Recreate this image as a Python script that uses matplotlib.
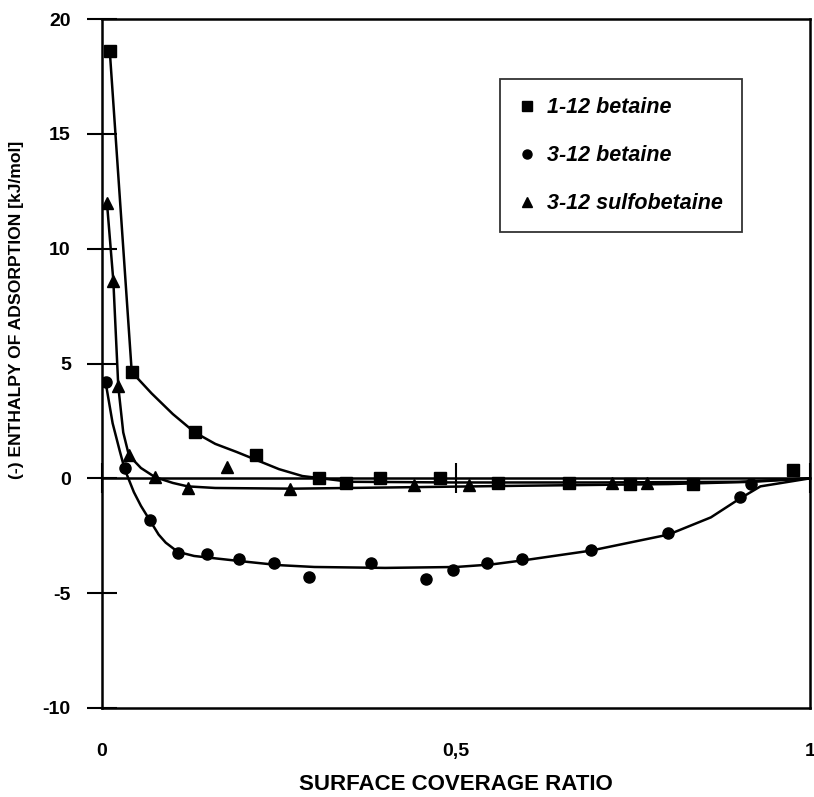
import matplotlib
matplotlib.use("Agg")
import matplotlib.pyplot as plt
from matplotlib.lines import Line2D

plt.rcParams['font.family'] = ['Liberation Sans', 'DejaVu Sans']
plt.rcParams['axes.unicode_minus'] = False

# ---- data ----
sq_x = [0.011, 0.042, 0.131, 0.218, 0.307, 0.345, 0.392, 0.478, 0.56, 0.66, 0.746, 0.835, 0.976]
sq_y = [18.6, 4.63, 2.0, 1.0, 0.0, -0.2, 0.0, 0.0, -0.2, -0.2, -0.25, -0.25, 0.35]

ci_x = [0.005, 0.032, 0.068, 0.107, 0.149, 0.194, 0.243, 0.292, 0.380, 0.458, 0.496,
        0.544, 0.593, 0.690, 0.799, 0.901, 0.917]
ci_y = [4.2, 0.43, -1.83, -3.27, -3.3, -3.5, -3.7, -4.3, -3.7, -4.4, -3.97,
        -3.7, -3.5, -3.1, -2.4, -0.83, -0.25]

tr_x = [0.007, 0.016, 0.023, 0.038, 0.075, 0.121, 0.176, 0.266, 0.44, 0.518, 0.72, 0.77]
tr_y = [12.0, 8.6, 4.0, 1.0, 0.05, -0.4, 0.48, -0.45, -0.3, -0.3, -0.2, -0.2]

# fitted curves (knots)
sq_fit_x = [0.011, 0.042, 0.07, 0.1, 0.131, 0.16, 0.19, 0.218, 0.25, 0.283, 0.31, 0.35,
            0.5, 0.7, 0.9, 0.95, 1.0]
sq_fit_y = [18.6, 4.63, 3.7, 2.8, 2.0, 1.5, 1.15, 0.8, 0.4, 0.1, 0.0, -0.15,
            -0.18, -0.18, -0.15, -0.08, 0.0]

ci_fit_x = [0.005, 0.015, 0.025, 0.032, 0.045, 0.055, 0.068, 0.08, 0.09, 0.107, 0.13, 0.15,
            0.2, 0.25, 0.3, 0.4, 0.5, 0.55, 0.6, 0.69, 0.8, 0.86, 0.9, 0.93, 1.0]
ci_fit_y = [4.2, 2.4, 1.2, 0.4, -0.6, -1.2, -1.85, -2.45, -2.8, -3.2, -3.38, -3.45,
            -3.62, -3.78, -3.86, -3.9, -3.86, -3.75, -3.55, -3.15, -2.45, -1.7, -0.9, -0.35, 0.0]

tr_fit_x = [0.007, 0.016, 0.023, 0.03, 0.038, 0.055, 0.075, 0.1, 0.121, 0.16, 0.27,
            0.4, 0.6, 0.8, 0.92, 1.0]
tr_fit_y = [12.0, 8.6, 4.0, 2.0, 1.0, 0.45, 0.05, -0.2, -0.35, -0.42, -0.45,
            -0.4, -0.32, -0.25, -0.15, 0.0]

labels = ['1-12 betaine', '3-12 betaine', '3-12 sulfobetaine']
x_ticks = [0, 0.5, 1]
x_ticklabels = ['0', '0,5', '1']
y_ticks = [-10, -5, 0, 5, 10, 15, 20]

# ---- figure ----
fig = plt.figure(figsize=(8.14, 7.97), dpi=100)
W, H = 814, 797
ax = fig.add_axes([102 / W, 1 - 708 / H, 708 / W, 689 / H])
ax.set_xlim(0, 0.997)
ax.set_ylim(-10, 20)

lw = 1.8
ax.plot(sq_fit_x, sq_fit_y, color='black', lw=lw, zorder=2)
ax.plot(ci_fit_x, ci_fit_y, color='black', lw=lw, zorder=2)
ax.plot(tr_fit_x, tr_fit_y, color='black', lw=lw, zorder=2)

ax.plot(sq_x, sq_y, 's', color='black', ms=8.5, ls='none', zorder=3)
ax.plot(ci_x, ci_y, 'o', color='black', ms=8, ls='none', zorder=3)
ax.plot(tr_x, tr_y, '^', color='black', ms=8, ls='none', zorder=3)

for s in ax.spines.values():
    s.set_linewidth(1.8)

# y axis
ax.set_yticks(y_ticks)
ax.tick_params(axis='y', direction='inout', length=21, width=1.5, pad=12,
               labelsize=14)
for t in ax.get_yticklabels():
    t.set_fontweight('bold')

# x axis labels at bottom, no tick marks
ax.set_xticks(x_ticks)
ax.set_xticklabels(x_ticklabels)
ax.tick_params(axis='x', length=0, pad=25, labelsize=14)
for t in ax.get_xticklabels():
    t.set_fontweight('bold')

# zero line with tick at 0.5 (secondary x axis at y = 0)
sec = ax.secondary_xaxis((0 - (-10)) / 30)
sec.set_xticks(x_ticks)
sec.tick_params(axis='x', direction='inout', length=21, width=1.5, labelbottom=False)
sec.spines['bottom'].set_linewidth(1.8)
sec.set_xticklabels([])

ax.set_xlabel('SURFACE COVERAGE RATIO', fontsize=16, fontweight='bold')
ax.xaxis.set_label_coords(0.5, (708 - 774) / 689)
ax.set_ylabel('(-) ENTHALPY OF ADSORPTION [kJ/mol]', fontsize=12.6, fontweight='bold')
ax.yaxis.set_label_coords((24 - 102) / 708, (708 - 310) / 689)

handles = [Line2D([], [], marker='s', color='black', ls='none', ms=6.5),
           Line2D([], [], marker='o', color='black', ls='none', ms=6.5),
           Line2D([], [], marker='^', color='black', ls='none', ms=6.5)]
leg = ax.legend(handles, labels, loc='upper left',
                bbox_to_anchor=((500 - 102) / 708, (708 - 79) / 689),
                frameon=True, fancybox=False, edgecolor='black',
                prop={'weight': 'bold', 'style': 'italic', 'size': 15.5},
                labelspacing=1.25, borderpad=0.85, handlelength=0.8,
                handletextpad=0.55, borderaxespad=0)
leg.get_frame().set_linewidth(1.3)

fig.savefig('out.png', dpi=100)
